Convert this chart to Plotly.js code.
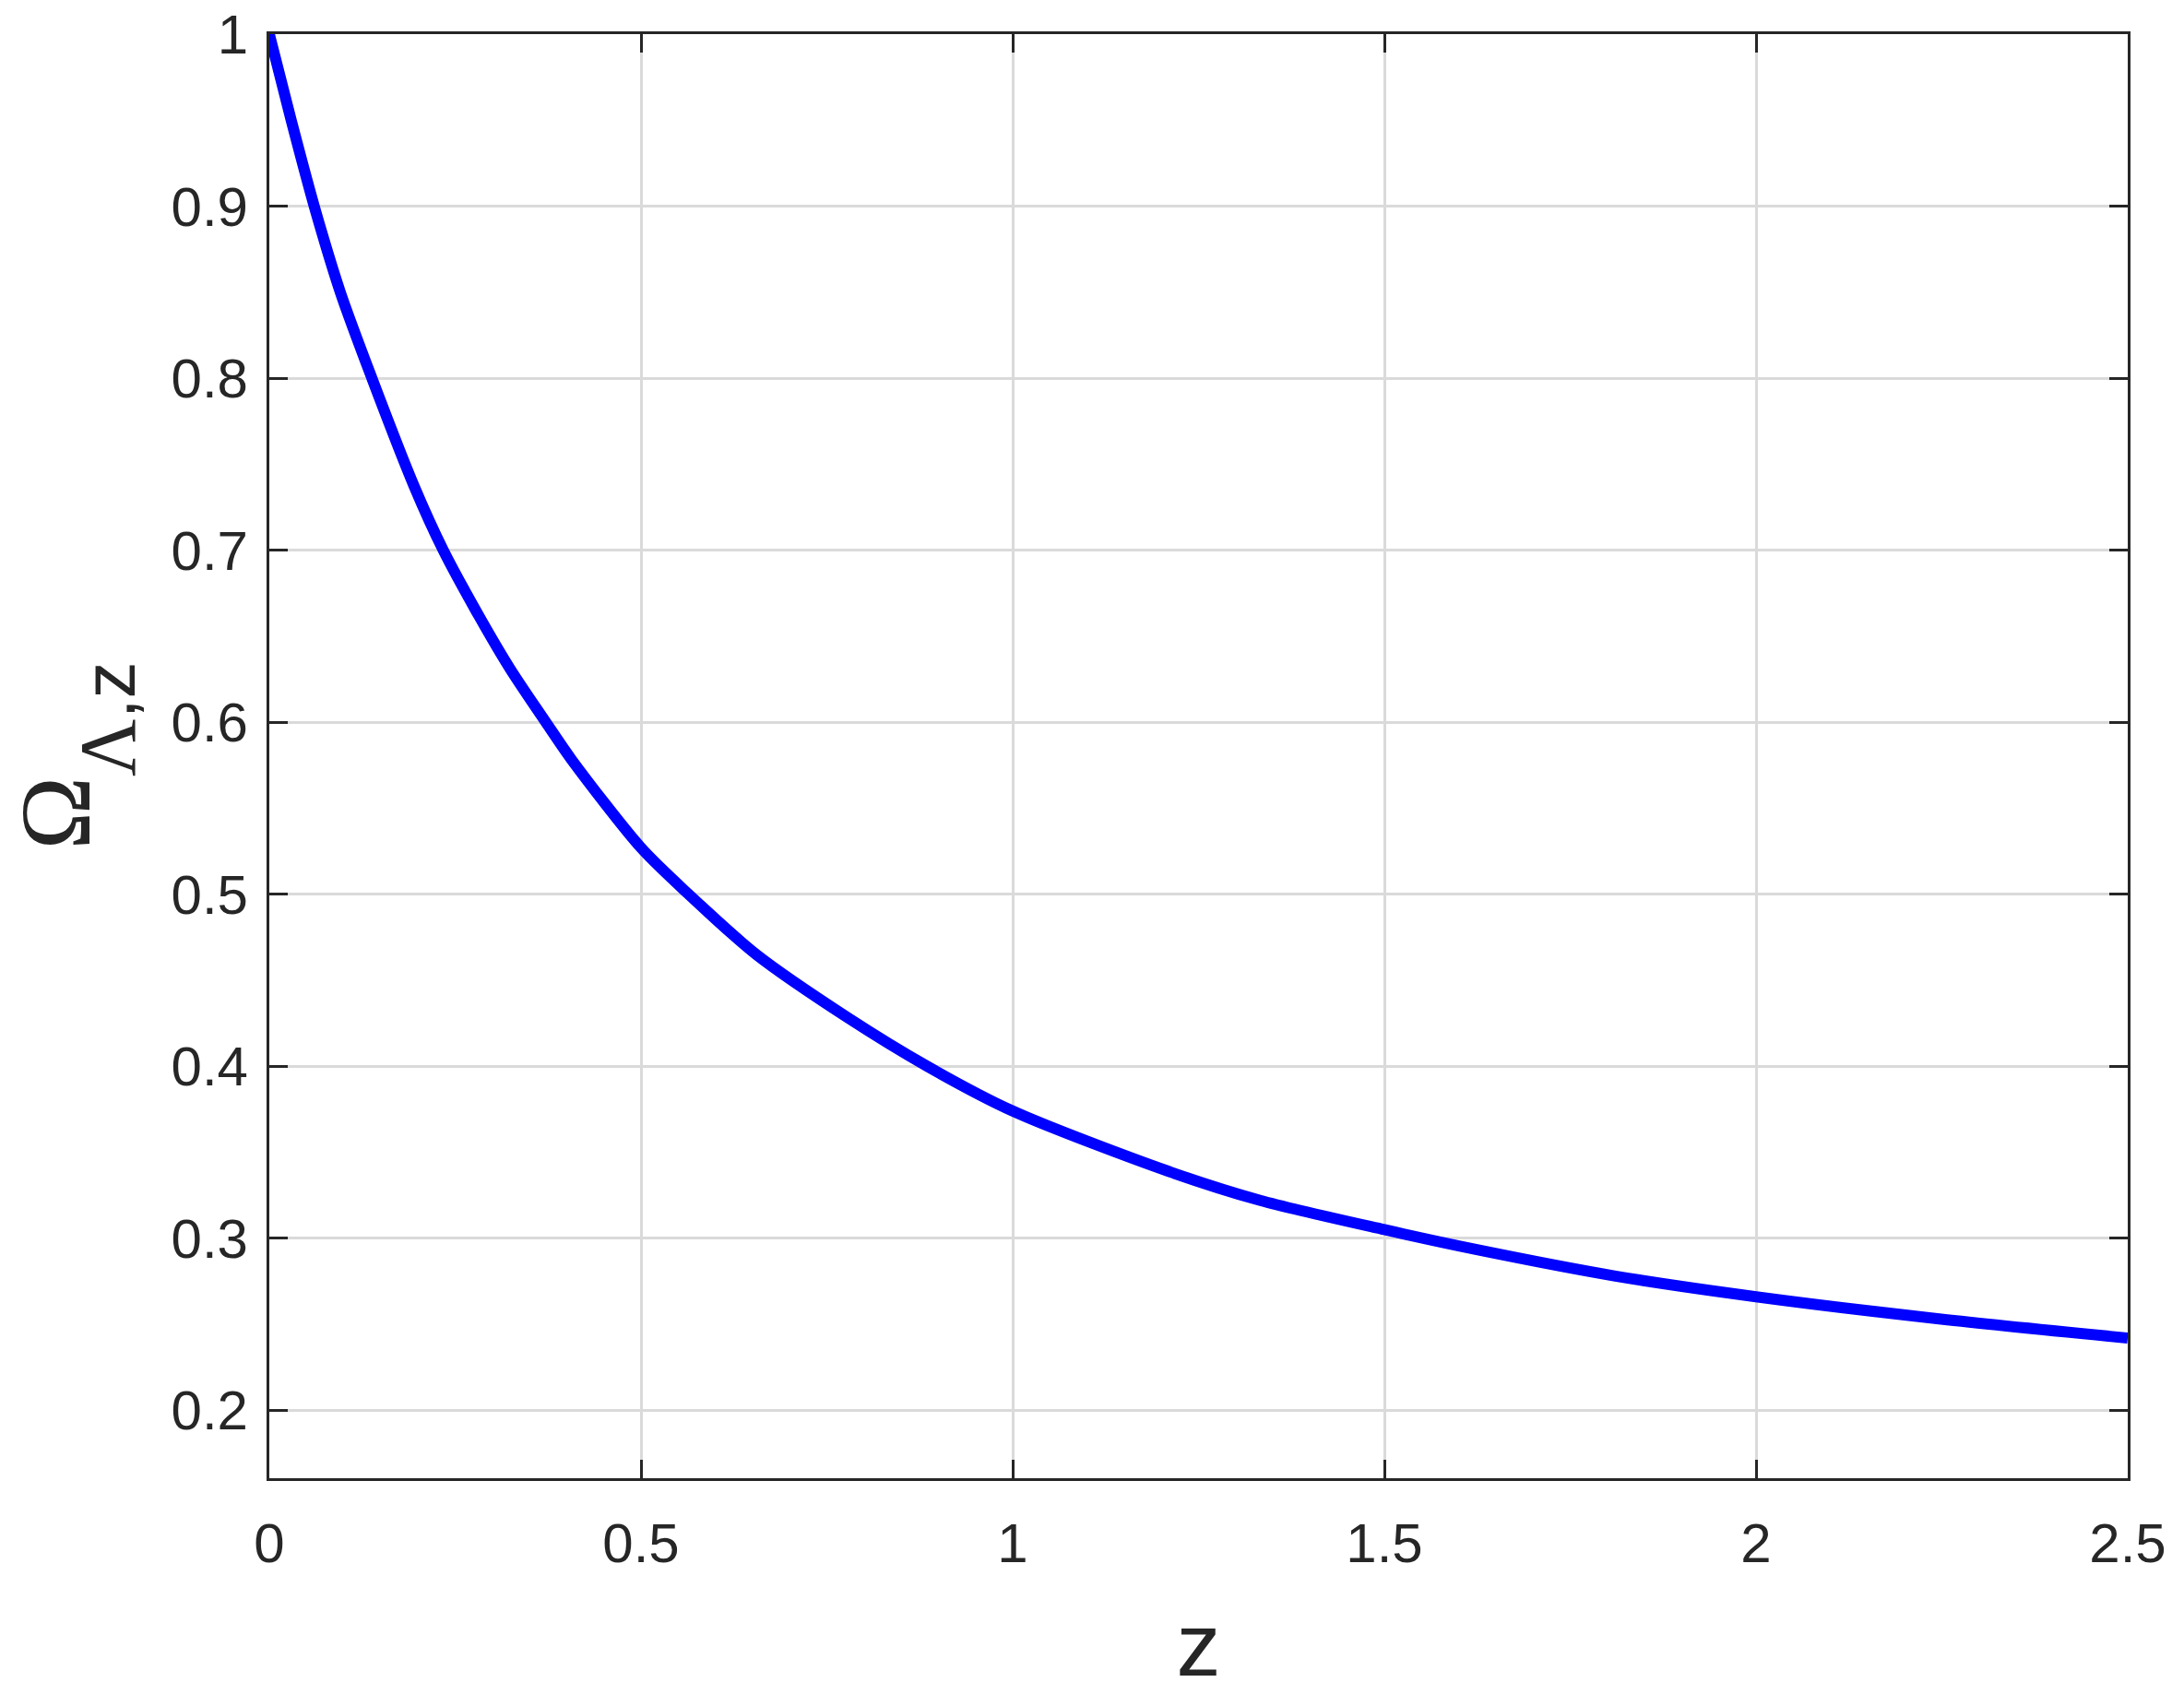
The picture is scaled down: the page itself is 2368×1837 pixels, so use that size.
<!DOCTYPE html>
<html>
<head>
<meta charset="utf-8">
<script src="https://cdn.plot.ly/plotly-3.0.1.min.js"></script>
<style>html,body{margin:0;padding:0;background:#fff;}</style>
</head>
<body>
<div id="chart" style="width:2368px;height:1837px;"></div>
<script>
// Redshift values
const zValues = [0, 0.0294, 0.0604, 0.0955, 0.138, 0.195, 0.234, 0.283, 0.324, 0.372, 0.407, 0.5, 0.564, 0.655, 0.779, 0.885, 1.0, 1.209, 1.333, 1.5, 1.623, 1.811, 2.0, 2.249, 2.5];
// Omega_Lambda(z)
const omegaValues = [1.0, 0.95, 0.9, 0.85, 0.8, 0.737, 0.7, 0.661, 0.631, 0.6, 0.578, 0.527, 0.5, 0.465, 0.428, 0.4, 0.374, 0.339, 0.322, 0.305, 0.2935, 0.278, 0.266, 0.253, 0.242];

const xTickVals = [0, 0.5, 1, 1.5, 2, 2.5];
const xTickText = ['0', '0.5', '1', '1.5', '2', '2.5'];
const yTickVals = [0.2, 0.3, 0.4, 0.5, 0.6, 0.7, 0.8, 0.9, 1];
const yTickText = ['0.2', '0.3', '0.4', '0.5', '0.6', '0.7', '0.8', '0.9', '1'];

const axisColor = '#262626';
const gridColor = '#dadada';
const tickFont = {family: 'Liberation Sans, Arial, sans-serif', size: 60, color: axisColor};

const trace = {
  x: zValues,
  y: omegaValues,
  type: 'scatter',
  mode: 'lines',
  line: {color: '#0000ff', width: 12, shape: 'spline', smoothing: 0.8},
  hoverinfo: 'skip'
};

const commonAxis = {
  showline: true,
  linecolor: axisColor,
  linewidth: 3,
  mirror: 'ticks',
  ticks: 'inside',
  ticklen: 20,
  tickwidth: 3,
  tickcolor: axisColor,
  showgrid: true,
  gridcolor: gridColor,
  gridwidth: 3,
  zeroline: false,
  tickfont: tickFont,
  tickmode: 'array'
};

const serif = 'font-family:Liberation Serif, Times New Roman, serif';
const yTitle = '<span style="' + serif + '">Ω</span>' +
  '<sub><sub><sub><span style="' + serif + ';font-size:86px">Λ</span>' +
  '<span style="font-size:80px">,z</span></sub></sub></sub>';

const layout = {
  width: 2368,
  height: 1837,
  margin: {l: 292, r: 61, t: 37, b: 234},
  paper_bgcolor: '#ffffff',
  plot_bgcolor: '#ffffff',
  showlegend: false,
  xaxis: Object.assign({}, commonAxis, {
    range: [0, 2.5],
    tickvals: xTickVals,
    ticktext: xTickText,
    ticklabelstandoff: 16,
    title: {
      text: 'z',
      font: {family: 'Liberation Sans, Arial, sans-serif', size: 96, color: axisColor}
    }
  }),
  yaxis: Object.assign({}, commonAxis, {
    range: [0.1605, 1],
    tickvals: yTickVals,
    ticktext: yTickText,
    ticklabelstandoff: 8
  }),
  annotations: [{
    text: yTitle,
    textangle: -90,
    xref: 'paper', yref: 'paper',
    x: -292 / 2015, y: 0.5,
    xanchor: 'left', yanchor: 'middle',
    showarrow: false,
    borderpad: 0,
    font: {family: 'Liberation Sans, Arial, sans-serif', size: 107, color: axisColor}
  }]
};

Plotly.newPlot('chart', [trace], layout, {staticPlot: true, displayModeBar: false});
</script>
</body>
</html>
